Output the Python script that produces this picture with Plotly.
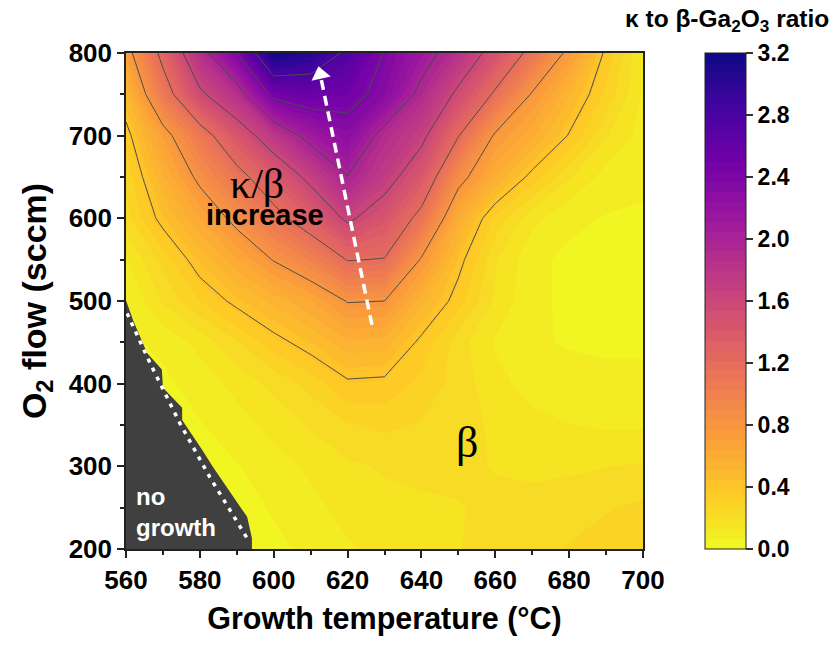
import plotly.graph_objects as go

# Growth grid: temperature (°C) columns, O2 flow (sccm) rows
temperature = [560, 570, 580, 590, 600, 610, 620, 630, 640, 650, 660, 670, 680, 690, 700]
o2_flow = [200, 250, 300, 350, 400, 450, 500, 550, 600, 650, 700, 750, 800]

# kappa / beta ratio, one row per O2 flow value
ratio = [
    [0.04, 0.04, 0.04, 0.04, 0.05, 0.08, 0.12, 0.15, 0.17, 0.19, 0.21, 0.23, 0.26, 0.29, 0.32],
    [0.04, 0.04, 0.04, 0.04, 0.07, 0.11, 0.15, 0.17, 0.18, 0.19, 0.20, 0.21, 0.23, 0.25, 0.27],
    [0.04, 0.04, 0.04, 0.06, 0.10, 0.14, 0.18, 0.20, 0.21, 0.20, 0.19, 0.18, 0.18, 0.19, 0.20],
    [0.04, 0.04, 0.06, 0.10, 0.15, 0.20, 0.25, 0.27, 0.25, 0.22, 0.18, 0.15, 0.13, 0.12, 0.12],
    [0.04, 0.05, 0.09, 0.15, 0.21, 0.28, 0.38, 0.37, 0.30, 0.23, 0.15, 0.10, 0.08, 0.07, 0.07],
    [0.05, 0.08, 0.15, 0.25, 0.36, 0.45, 0.56, 0.55, 0.37, 0.22, 0.12, 0.07, 0.06, 0.06, 0.06],
    [0.06, 0.20, 0.32, 0.43, 0.53, 0.64, 0.81, 0.80, 0.54, 0.35, 0.18, 0.08, 0.05, 0.05, 0.06],
    [0.12, 0.28, 0.46, 0.63, 0.81, 0.97, 1.21, 1.19, 0.78, 0.44, 0.20, 0.08, 0.05, 0.05, 0.06],
    [0.23, 0.44, 0.64, 0.86, 1.11, 1.35, 1.65, 1.44, 1.12, 0.59, 0.30, 0.15, 0.08, 0.06, 0.06],
    [0.27, 0.56, 0.85, 1.11, 1.38, 1.67, 1.99, 1.72, 1.41, 0.88, 0.58, 0.36, 0.20, 0.10, 0.07],
    [0.35, 0.71, 1.07, 1.43, 1.77, 2.10, 2.28, 1.90, 1.67, 1.21, 0.77, 0.59, 0.39, 0.20, 0.10],
    [0.50, 1.06, 1.55, 1.86, 2.48, 2.56, 2.50, 2.31, 1.92, 1.54, 1.16, 0.78, 0.52, 0.30, 0.12],
    [0.70, 1.28, 1.87, 2.40, 3.20, 3.05, 2.74, 2.39, 2.13, 1.83, 1.48, 1.11, 0.74, 0.37, 0.12],
]

# Boundary of the region where no film grows
no_growth_temp = [560, 560, 561.9, 565.7, 569.7, 570, 575.2, 575.2, 580.6, 583.6, 590.9, 592.8, 594.1, 594.1]
no_growth_flow = [200, 501, 477, 437, 417, 395, 371, 356, 320, 299, 251, 239, 213, 200]

# Dotted guide along the growth limit
limit_temp = [560.3, 566.5, 574.6, 582.7, 592.8]
limit_flow = [485, 425, 352, 287, 213]

# Trend arrow toward higher kappa fraction (tail, head)
arrow_temp = [626.6, 612.6]
arrow_flow = [471, 774]

cbar_ticks = [0.0, 0.4, 0.8, 1.2, 1.6, 2.0, 2.4, 2.8, 3.2]

SANS = "Liberation Sans"
SERIF = "Liberation Serif"

fig = go.Figure()

fig.add_trace(go.Contour(
    x=temperature, y=o2_flow, z=ratio,
    colorscale="Plasma", reversescale=True,
    zmin=0, zmax=3.2,
    autocontour=False,
    contours=dict(start=0, end=3.2, size=0.064, coloring="fill", showlines=False),
    line=dict(width=0, smoothing=0),
    hoverinfo="skip",
    colorbar=dict(
        x=1.12, xanchor="left", y=0.5, yanchor="middle",
        len=1, lenmode="fraction", thickness=41, thicknessmode="pixels",
        xpad=0, ypad=0,
        outlinewidth=1, outlinecolor="#222",
        tickvals=cbar_ticks, ticktext=[f"{v:.1f}" for v in cbar_ticks],
        ticks="outside", ticklen=7, tickwidth=1.5, tickcolor="#333",
        tickfont=dict(family=SANS, size=23, color="black", weight="bold"),
    ),
))

fig.add_trace(go.Contour(
    x=temperature, y=o2_flow, z=ratio,
    autocontour=False,
    contours=dict(start=0.4, end=2.8, size=0.4, coloring="none"),
    line=dict(color="#4a4a4a", width=1, smoothing=0),
    showscale=False, hoverinfo="skip",
))

fig.add_trace(go.Scatter(
    x=no_growth_temp, y=no_growth_flow, mode="lines",
    fill="toself", fillcolor="#404040", line=dict(width=0, color="#404040"),
    hoverinfo="skip", showlegend=False,
))

fig.add_trace(go.Scatter(
    x=limit_temp, y=limit_flow, mode="lines",
    line=dict(color="white", width=3.5, dash="4px,6px"),
    hoverinfo="skip", showlegend=False,
))

fig.add_trace(go.Scatter(
    x=arrow_temp, y=arrow_flow, mode="lines",
    line=dict(color="white", width=3.5, dash="10px,6px"),
    hoverinfo="skip", showlegend=False,
))
fig.add_trace(go.Scatter(
    x=arrow_temp[-1:], y=arrow_flow[-1:], mode="markers",
    marker=dict(symbol="triangle-up", angle=-12, size=17, color="white", line=dict(width=0)),
    hoverinfo="skip", showlegend=False,
))

axis_font = dict(family=SANS, size=26, color="black", weight="bold")

fig.update_xaxes(
    range=[560, 700], tickvals=list(range(560, 701, 20)),
    ticks="outside", ticklen=7, tickwidth=1.5, tickcolor="#222",
    minor=dict(dtick=10, tick0=560, ticks="outside", ticklen=4, tickwidth=1.5, tickcolor="#222"),
    showline=True, linecolor="#222", linewidth=1.5, mirror=True,
    showgrid=False, zeroline=False,
    tickfont=axis_font,
    title=dict(text="Growth temperature (°C)", font=dict(family=SANS, size=30.5, color="black", weight="bold"),
               standoff=14),
)
fig.update_yaxes(
    range=[200, 800], tickvals=list(range(200, 801, 100)),
    ticks="outside", ticklen=7, tickwidth=1.5, tickcolor="#222",
    minor=dict(dtick=50, tick0=200, ticks="outside", ticklen=4, tickwidth=1.5, tickcolor="#222"),
    showline=True, linecolor="#222", linewidth=1.5, mirror=True,
    showgrid=False, zeroline=False,
    tickfont=axis_font,
    title=dict(text="O<sub>2</sub> flow (sccm)", font=dict(family=SANS, size=34, color="black", weight="bold"),
               standoff=12),
)

fig.add_annotation(x=595.6, y=642, text="κ/β", showarrow=False,
                   font=dict(family=SERIF, size=42, color="black"))
fig.add_annotation(x=597.6, y=604, text="increase", showarrow=False,
                   font=dict(family=SANS, size=29, color="black", weight="bold"))
fig.add_annotation(x=652.3, y=329, text="β", showarrow=False,
                   font=dict(family=SERIF, size=44, color="black"))
fig.add_annotation(x=562.2, y=245, text="no<br>growth", showarrow=False, align="left",
                   xanchor="left", yanchor="middle",
                   font=dict(family=SANS, size=24, color="white", weight="bold"))
fig.add_annotation(x=1.1634, y=1.0665, xref="paper", yref="paper",
                   text="κ to β-Ga<sub>2</sub>O<sub>3</sub> ratio", showarrow=False,
                   xanchor="center", yanchor="middle",
                   font=dict(family=SANS, size=24.5, color="black", weight="bold"))

fig.update_layout(
    width=831, height=649,
    margin=dict(l=126, r=188, t=53, b=100),
    paper_bgcolor="white", plot_bgcolor="white",
    showlegend=False,
)

fig.write_html("out.html")
